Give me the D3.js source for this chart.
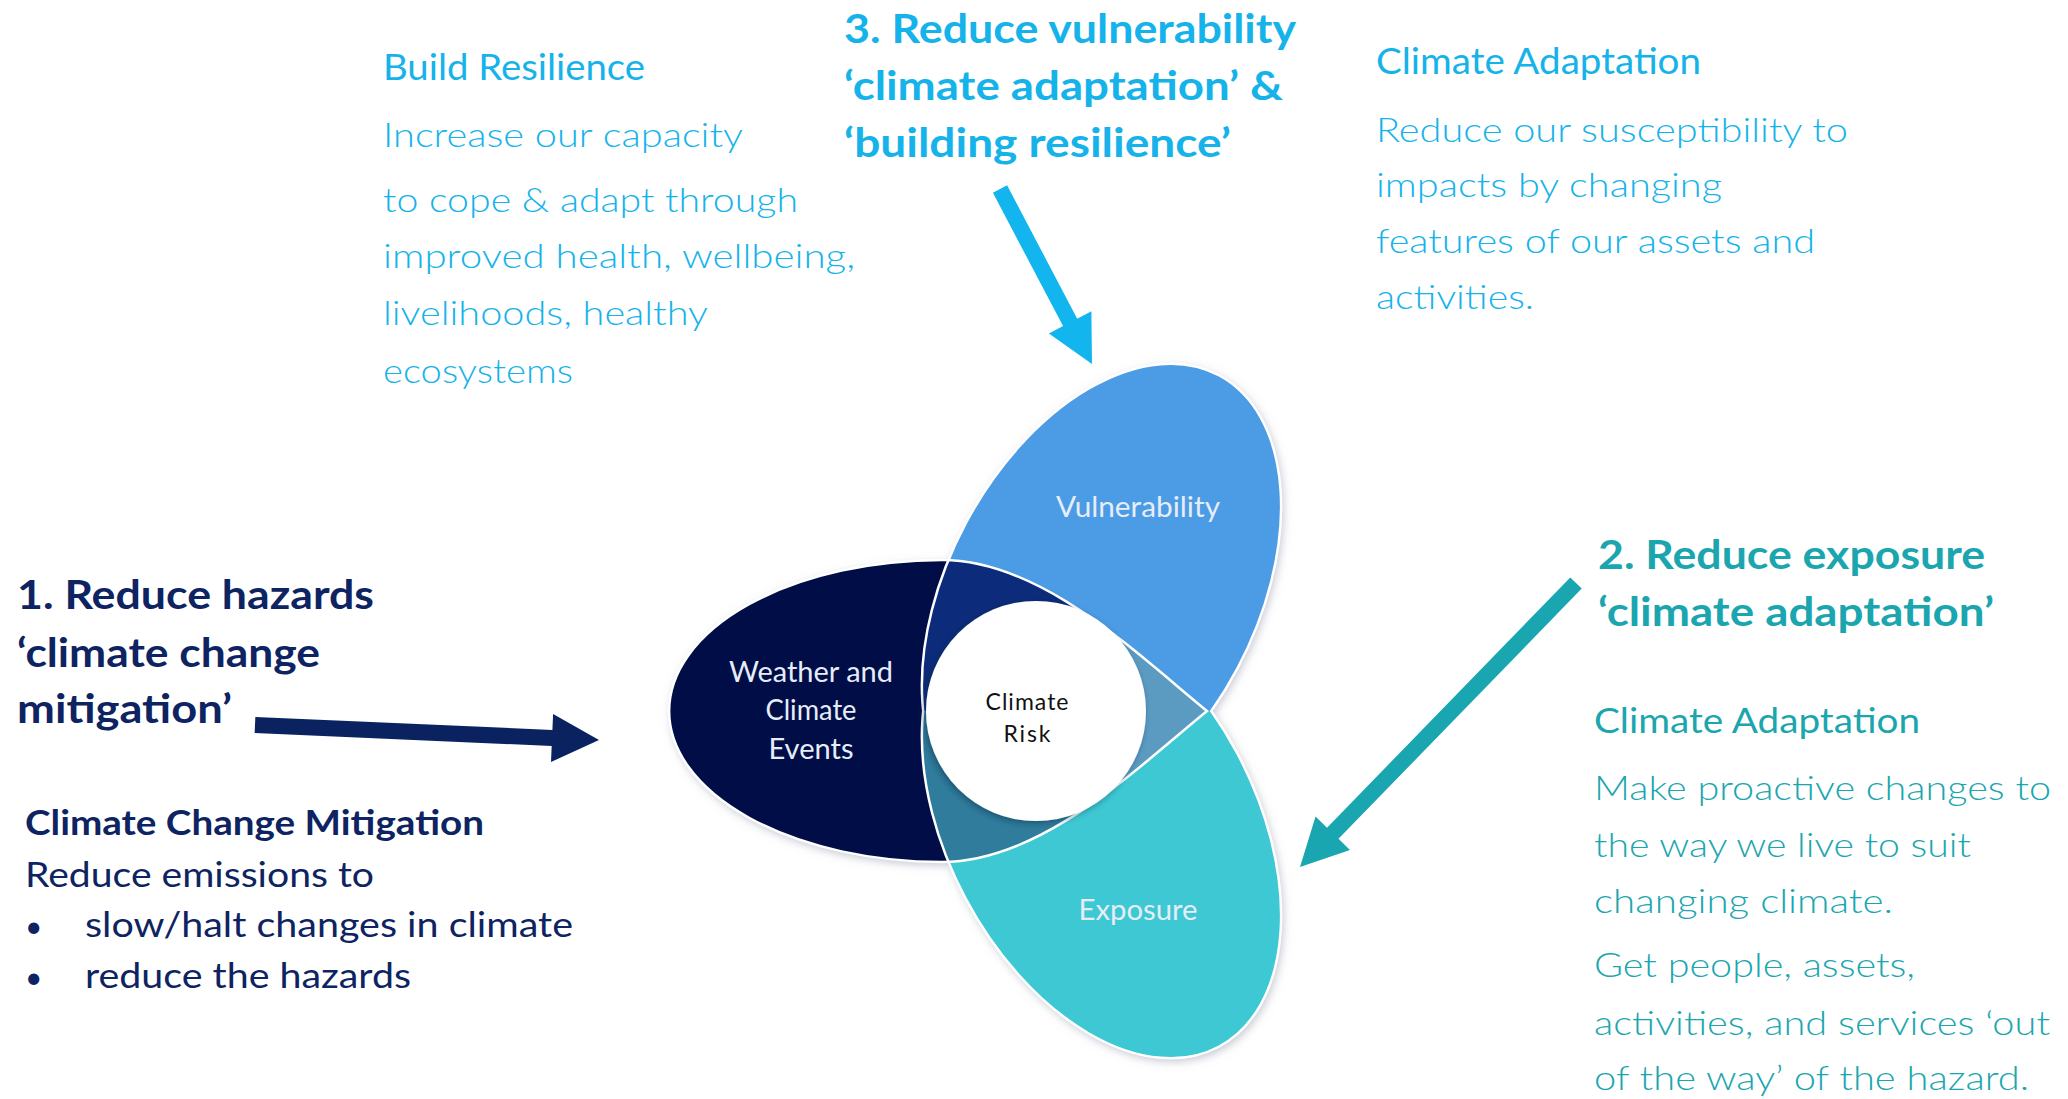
<!DOCTYPE html>
<html>
<head>
<meta charset="utf-8">
<script src="https://cdn.jsdelivr.net/npm/d3@7"></script>
<style>
  body { margin: 0; background: #ffffff; }
  svg { display: block; font-family: Lato, "Open Sans", sans-serif; }
</style>
</head>
<body>
<script>
// ---- text content ----
const resilienceLines = ["Build Resilience", "Increase our capacity", "to cope & adapt through",
  "improved health, wellbeing,", "livelihoods, healthy", "ecosystems"];
const vulnerabilityHeading = ["3. Reduce vulnerability", "\u2018climate adaptation\u2019 &", "\u2018building resilience\u2019"];
const adaptationTopLines = ["Climate Adaptation", "Reduce our susceptibility to", "impacts by changing",
  "features of our assets and", "activities."];
const hazardHeading = ["1. Reduce hazards", "\u2018climate change", "mitigation\u2019"];
const mitigationLines = ["Climate Change Mitigation", "Reduce emissions to"];
const mitigationBullets = ["slow/halt changes in climate", "reduce the hazards"];
const exposureHeading = ["2. Reduce exposure", "\u2018climate adaptation\u2019"];
const adaptationRightLines = ["Climate Adaptation", "Make proactive changes to", "the way we live to suit",
  "changing climate.", "Get people, assets,", "activities, and services \u2018out",
  "of the way\u2019 of the hazard."];
const petalLabels = ["Vulnerability", "Exposure"];
const hazardLabel = ["Weather and", "Climate", "Events"];
const centreLabel = ["Climate", "Risk"];

// ---- colours ----
const lightBlue = "#15b3ea";
const navyText = "#0e2462";
const tealText = "#1ba6af";
const navyFill = "#030d46";
const vulnFill = "#4c9be5";
const expoFill = "#3ec8d3";
const navyVuln = "#0c2c7b";
const navyExpo = "#2f7c9c";
const tripleFill = "#5b9bc1";

// ---- layout ----
const W = 2068, H = 1099;
const centre = [1036, 711];

const svg = d3.select("body").append("svg")
  .attr("width", W).attr("height", H);

const defs = svg.append("defs");
const soft = defs.append("filter").attr("id", "soft")
  .attr("x", "-20%").attr("y", "-20%").attr("width", "140%").attr("height", "140%");
soft.append("feDropShadow").attr("dx", 2).attr("dy", 3).attr("stdDeviation", 5)
  .attr("flood-color", "#8f93a8").attr("flood-opacity", 0.55);
const ring = defs.append("filter").attr("id", "ring")
  .attr("x", "-20%").attr("y", "-20%").attr("width", "140%").attr("height", "140%");
ring.append("feDropShadow").attr("dx", -2).attr("dy", 2).attr("stdDeviation", 3)
  .attr("flood-color", "#10203a").attr("flood-opacity", 0.45);

// navy petal: round outer end on the left, pointed where the other two cross
const navyPath = "M1207,711 C1137,654 1042,560 942,560 A273,151 0 0 0 942,862 C1042,862 1137,768 1207,711 Z";
const vulnEllipse = {cx: 1101.5, cy: 596, rx: 250, ry: 154, rot: -62};
const expoEllipse = {cx: 1101.5, cy: 826, rx: 250, ry: 154, rot: 62};

defs.append("clipPath").attr("id", "inNavy").append("path").attr("d", navyPath);
defs.append("clipPath").attr("id", "outNavy").append("path")
  .attr("d", `M0,0H${W}V${H}H0Z ` + navyPath).attr("clip-rule", "evenodd");
defs.append("clipPath").attr("id", "upper").append("rect")
  .attr("x", 0).attr("y", 0).attr("width", W).attr("height", centre[1]);
defs.append("clipPath").attr("id", "lower").append("rect")
  .attr("x", 0).attr("y", centre[1]).attr("width", W).attr("height", H - centre[1]);

function addEllipse(g, e) {
  return g.append("ellipse")
    .attr("cx", e.cx).attr("cy", e.cy).attr("rx", e.rx).attr("ry", e.ry)
    .attr("transform", `rotate(${e.rot} ${e.cx} ${e.cy})`);
}

const diagram = svg.append("g");

// base petals with soft shadow (vulnerability above the axis, exposure below)
const base = diagram.append("g").attr("filter", "url(#soft)");
addEllipse(base.append("g").attr("clip-path", "url(#upper)"), vulnEllipse).attr("fill", vulnFill);
addEllipse(base.append("g").attr("clip-path", "url(#lower)"), expoEllipse).attr("fill", expoFill);
base.append("path").attr("d", navyPath).attr("fill", navyFill);

// overlaps inside the navy petal
const inside = diagram.append("g").attr("clip-path", "url(#inNavy)");
addEllipse(inside.append("g").attr("clip-path", "url(#upper)"), vulnEllipse).attr("fill", navyVuln);
addEllipse(inside.append("g").attr("clip-path", "url(#lower)"), expoEllipse).attr("fill", navyExpo);

// white outlines of the two tilted petals
[["url(#upper)", vulnEllipse], ["url(#lower)", expoEllipse]].forEach(([half, e]) => {
  addEllipse(diagram.append("g").attr("clip-path", half), e)
    .attr("fill", "none").attr("stroke", "#fff").attr("stroke-width", 2.5);
});

// triple overlap to the right of the circle
diagram.append("g").attr("clip-path", "url(#inNavy)")
  .append("polygon")
  .attr("points", [[centre[0], centre[1]], [1110, 560], [1400, 711], [1110, 862]].join(" "))
  .attr("fill", tripleFill);

diagram.append("path").attr("d", navyPath)
  .attr("fill", "none").attr("stroke", "#fff").attr("stroke-width", 2.5);

// centre circle
diagram.append("circle")
  .attr("cx", centre[0]).attr("cy", centre[1]).attr("r", 110)
  .attr("fill", "#fff").attr("filter", "url(#ring)");

// labels in the petals
const labelColor = "#e6edf7";
diagram.append("g").selectAll("text").data(petalLabels).join("text")
  .attr("x", 1138).attr("y", (d, i) => [517, 920][i])
  .attr("text-anchor", "middle").attr("font-size", 28).attr("fill", labelColor)
  .attr("textLength", (d, i) => [164, 119][i]).attr("lengthAdjust", "spacingAndGlyphs")
  .text(d => d);
diagram.append("g").selectAll("text").data(hazardLabel).join("text")
  .attr("x", 811).attr("y", (d, i) => [682, 720, 759][i])
  .attr("text-anchor", "middle").attr("font-size", 28).attr("fill", labelColor)
  .attr("textLength", (d, i) => [164, 91, 85][i]).attr("lengthAdjust", "spacingAndGlyphs")
  .text(d => d);
diagram.append("g").selectAll("text").data(centreLabel).join("text")
  .attr("x", 1027).attr("y", (d, i) => [710, 742][i])
  .attr("text-anchor", "middle").attr("font-size", 23).attr("fill", "#111")
  .attr("textLength", (d, i) => [83, 47][i]).attr("lengthAdjust", "spacing")
  .text(d => d);

// ---- arrows ----
const arrows = [
  {tail: [255, 725], tip: [599, 740], color: "#0b2261"},
  {tail: [1576, 583], tip: [1300, 867], color: "#1aa6b0"},
  {tail: [1000, 189], tip: [1092, 364], color: "#12b5ee"}
];
const shaft = 16, headLen = 47, headHalf = 24;

function arrowPoints(a) {
  const dx = a.tip[0] - a.tail[0], dy = a.tip[1] - a.tail[1];
  const len = Math.hypot(dx, dy);
  const u = [dx / len, dy / len], n = [-u[1], u[0]];
  const b = [a.tip[0] - u[0] * headLen, a.tip[1] - u[1] * headLen];
  const off = (p, k) => [p[0] + n[0] * k, p[1] + n[1] * k];
  return [off(a.tail, shaft / 2), off(b, shaft / 2), off(b, headHalf), a.tip,
    off(b, -headHalf), off(b, -shaft / 2), off(a.tail, -shaft / 2)];
}

svg.append("g").selectAll("path").data(arrows).join("path")
  .attr("d", d => d3.line()(arrowPoints(d)) + "Z")
  .attr("fill", d => d.color);

// ---- text blocks ----
function textBlock(lines, cfg) {
  svg.append("g").selectAll("text").data(lines).join("text")
    .attr("x", cfg.x)
    .attr("y", (d, i) => cfg.baselines[i])
    .attr("font-size", (d, i) => cfg.sizes[i])
    .attr("font-weight", (d, i) => cfg.weights[i])
    .attr("fill", cfg.color)
    .attr("textLength", (d, i) => cfg.widths[i])
    .attr("lengthAdjust", "spacingAndGlyphs")
    .text(d => d);
}

textBlock(resilienceLines, {
  x: 383, baselines: [80, 147, 212, 268, 325, 383],
  widths: [262, 360, 415, 472, 325, 190],
  sizes: [37, 33, 33, 33, 33, 33], weights: [400, 300, 300, 300, 300, 300], color: lightBlue
});
textBlock(vulnerabilityHeading, {
  x: 844, baselines: [43, 100, 157], widths: [452, 439, 387],
  sizes: [41, 41, 41], weights: [700, 700, 700], color: lightBlue
});
textBlock(adaptationTopLines, {
  x: 1376, baselines: [74, 142, 197, 253, 309],
  widths: [325, 472, 346, 439, 158],
  sizes: [37, 34, 34, 34, 34], weights: [400, 300, 300, 300, 300], color: lightBlue
});
textBlock(hazardHeading, {
  x: 17, baselines: [609, 667, 723], widths: [357, 303, 215],
  sizes: [41, 41, 41], weights: [700, 700, 700], color: navyText
});
textBlock(mitigationLines, {
  x: 25, baselines: [835, 887], widths: [459, 349],
  sizes: [34, 34], weights: [700, 400], color: navyText
});
textBlock(mitigationBullets, {
  x: 85, baselines: [937, 988], widths: [488, 326],
  sizes: [34, 34], weights: [400, 400], color: navyText
});
svg.append("g").selectAll("text").data(mitigationBullets).join("text")
  .attr("x", 25).attr("y", (d, i) => [937, 988][i])
  .attr("font-size", 30).attr("fill", navyText).text("\u2022");
textBlock(exposureHeading, {
  x: 1598, baselines: [569, 626], widths: [387, 396],
  sizes: [41, 41], weights: [700, 700], color: tealText
});
textBlock(adaptationRightLines, {
  x: 1594, baselines: [733, 800, 857, 913, 977, 1035, 1090],
  widths: [326, 457, 377, 299, 321, 456, 435],
  sizes: [34, 34, 34, 34, 34, 34, 34], weights: [400, 300, 300, 300, 300, 300, 300], color: tealText
});
</script>
</body>
</html>
